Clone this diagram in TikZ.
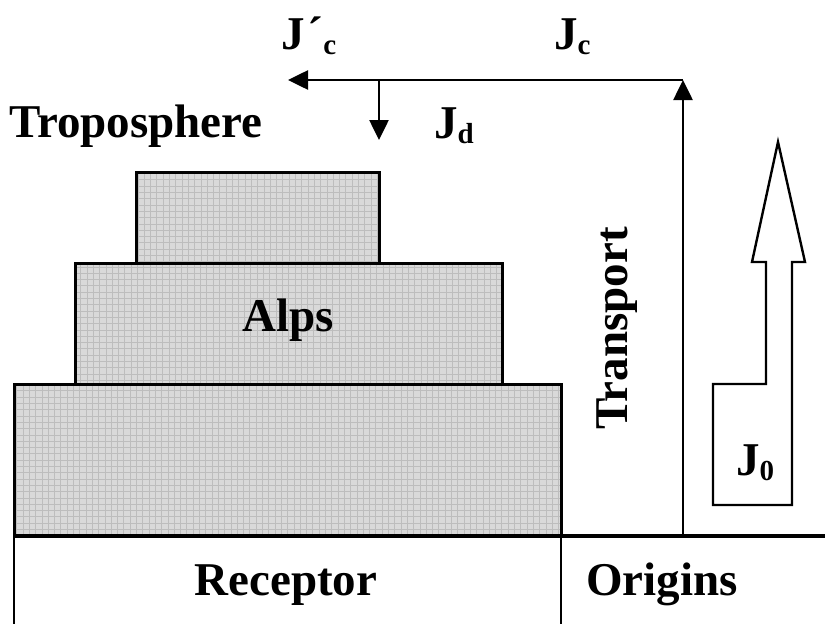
\documentclass[tikz,border=0pt]{standalone}
\usepackage{fontspec}
\setmainfont{Liberation Serif}
\usetikzlibrary{arrows.meta}
\newcommand{\bigf}{\fontsize{47}{52}\selectfont\bfseries}
\newcommand{\subf}[1]{\raisebox{-5pt}{\fontsize{29}{30}\selectfont\bfseries #1}}
\tikzset{
  blk/.style={draw, line width=3pt, fill=gray!30, inner sep=0pt,
    path picture={\draw[gray!52, line width=0.6pt]
      (path picture bounding box.south west) grid[step=6.3pt]
      (path picture bounding box.north east);}},
  lbl/.style={font=\bigf, inner sep=0pt},
  arr/.style={line width=2.6pt, -{Triangle[length=20pt,width=19pt]}},
  frame/.style={line width=2.8pt},
  hollow/.style={line width=2.4pt, line join=miter}
}
\begin{document}
\begin{tikzpicture}[x=1pt,y=-1pt]
\useasboundingbox (0,0) rectangle (825,624);
% boxes
\node[blk, minimum width=547pt, minimum height=152pt] (bot) at (287.5,460) {};
\node[blk, minimum width=427pt, minimum height=121pt] (mid) at (288.5,323.5) {};
\node[blk, minimum width=243pt, minimum height=91pt] (top) at (257.5,217.5) {};
\node[lbl, anchor=base] (alps) at (288,331) {Alps};
% ground frame
\coordinate (gl) at (14,536);
\coordinate (gr) at (825,536);
\coordinate (gbl) at (14,624);
\coordinate (dv) at (561,536);
\coordinate (dvb) at (561,624);
\draw[line width=3.6pt] (gl) -- (gr);
\draw[frame] (gl) -- (gbl);
\draw[frame] (dv) -- (dvb);
\node[lbl, anchor=base] (rec) at (286,595) {Receptor};
\node[lbl, anchor=base] (ori) at (662,595) {Origins};
% transport arrows
\coordinate (base) at (683,536);
\coordinate (corner) at (683,80);
\coordinate (leftend) at (288,80);
\coordinate (dtop) at (379,80);
\coordinate (dtip) at (379,140);
\draw[arr] (base) -- (corner);
\draw[arr] (corner) -- (leftend);
\draw[arr] (dtop) -- (dtip);
\node[lbl, rotate=90] (trans) at (617,328.5) {Transport};
% labels
\node[lbl, anchor=base west] (tropo) at (9,137) {Troposphere};
\node[lbl, anchor=base west] (jcp) at (281,49) {J\hspace{3pt}´\subf{c}};
\node[lbl, anchor=base west] (jc) at (554,49) {J\subf{c}};
\node[lbl, anchor=base west] (jd) at (434,138) {J\subf{d}};
% hollow source arrow
\coordinate (h1) at (713,505);
\coordinate (h2) at (713,384);
\coordinate (h3) at (766,384);
\coordinate (h4) at (766,262);
\coordinate (h5) at (752,262);
\coordinate (h6) at (778,142);
\coordinate (h7) at (805,262);
\coordinate (h8) at (792,262);
\coordinate (h9) at (792,505);
\draw[hollow] (h1) -- (h2) -- (h3) -- (h4) -- (h5) -- (h6) -- (h7) -- (h8) -- (h9) -- cycle;
\node[lbl, anchor=base west] (j0) at (736,475) {J\subf{0}};
\end{tikzpicture}
\end{document}
